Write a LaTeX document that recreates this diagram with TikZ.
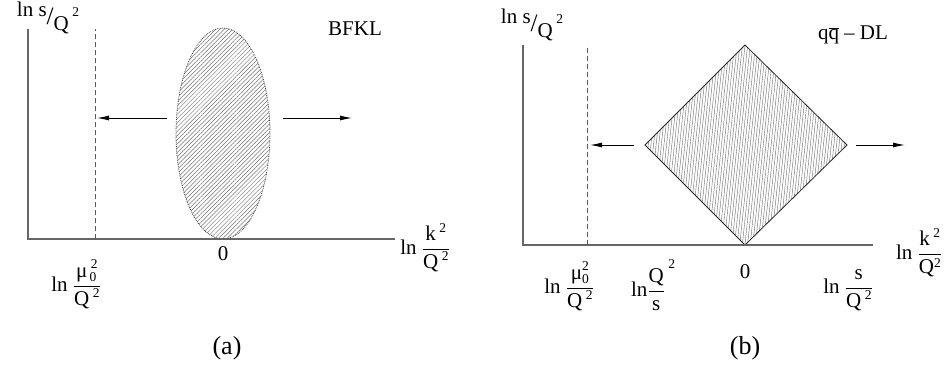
\documentclass[tikz,border=0pt]{standalone}
\usepackage{fontspec}
\setmainfont{Liberation Serif}
\usetikzlibrary{arrows.meta,patterns.meta}
\newcommand\sm{\fontsize{13.5}{15}\selectfont}
\newcommand\lnsq{ln s\raisebox{-8pt}{\fontsize{25}{25}\selectfont/}\raisebox{-14pt}{Q}\,{\sm 2}}
\newcommand\qsq{Q\,\raisebox{8pt}{\sm 2}}
\newcommand\frk[2]{$\displaystyle\frac{\hbox{\rule[-3pt]{0pt}{3pt}#1}}{\hbox{\rule{0pt}{17pt}#2}}$}
\begin{document}
\begin{tikzpicture}[x=1pt,y=1pt,line width=.6pt,
  every node/.style={font=\fontsize{21}{24}\selectfont,inner sep=0pt},
  caption/.style={font=\fontsize{26}{30}\selectfont},
  axis/.style={line width=1.1pt,black!60},
  guide/.style={black!65,dash pattern=on 5pt off 3pt},
  push/.style={line width=.9pt,-{Latex[length=12pt,width=5pt]}}]
  \useasboundingbox (0,0) rectangle (951,368);
  % (a)
  \coordinate (oa) at (28,129);
  \coordinate (ya) at (28,339);
  \coordinate (xa) at (395,129);
  \coordinate (ma) at (95,129);
  \coordinate (mta) at (95,339);
  \coordinate (ea) at (223,234.5);
  \fill[pattern={Lines[angle=45,distance=3pt,line width=.5pt]},pattern color=black!55]
    (ea) ellipse [x radius=47, y radius=105.5];
  \draw[black!75,line width=.8pt,densely dotted] (ea) ellipse [x radius=47, y radius=105.5];
  \draw[axis] (ya)--(oa)--(xa);
  \draw[guide] (ma)--(mta);
  \coordinate (la1) at (167,250); \coordinate (la2) at (97,250);
  \coordinate (ra1) at (283,250); \coordinate (ra2) at (352,250);
  \draw[push] (la1)--(la2);
  \draw[push] (ra1)--(ra2);
  \node (ttla) at (355,339) {BFKL};
  \node (yla) at (48,350) {\lnsq};
  \node (xla) at (425,120) {ln \frk{k\,\raisebox{8pt}{\sm 2}}{\qsq}};
  \node (mla) at (76,84) {ln \frk{μ\rlap{\raisebox{-4pt}{\sm\,0}}\,\raisebox{9pt}{\sm 2}}{\qsq}};
  \node (zla) at (223,114) {0};
  \node[caption] (capa) at (227,20) {(a)};
  % (b)
  \coordinate (ob) at (523,123);
  \coordinate (yb) at (523,323);
  \coordinate (xb) at (873,123);
  \coordinate (mb) at (587,123);
  \coordinate (mtb) at (587,323);
  \coordinate (dt) at (745,323);
  \coordinate (dr) at (847,223);
  \coordinate (db) at (745,123);
  \coordinate (dl) at (645,223);
  \fill[pattern={Lines[angle=84,distance=2.6pt,line width=.45pt]},pattern color=black!55]
    (dt)--(dr)--(db)--(dl)--cycle;
  \draw[black!85,line width=.8pt] (dt)--(dr)--(db)--(dl)--cycle;
  \draw[axis] (yb)--(ob)--(xb);
  \draw[guide] (mb)--(mtb);
  \coordinate (lb1) at (634,223); \coordinate (lb2) at (590,223);
  \coordinate (rb1) at (856,223); \coordinate (rb2) at (905,223);
  \draw[push] (lb1)--(lb2);
  \draw[push] (rb1)--(rb2);
  \node (ttlb) at (853,333) {q$\overline{\hbox{q}}$ – DL};
  \node (ylb) at (532,343) {\lnsq};
  \node (xlb) at (919,115) {ln \frk{k\,\raisebox{8pt}{\sm 2}}{Q\raisebox{6pt}{\sm 2}}};
  \node (mlb) at (569,82) {ln \frk{μ\rlap{\raisebox{-4pt}{\sm 0}}\raisebox{9pt}{\sm 2}}{\qsq}};
  \node (qlb) at (648,83) {ln\frk{Q\rlap{\raisebox{14pt}{\sm\,\,2}}}{s}};
  \node (zlb) at (745,96) {0};
  \node (slb) at (848,78) {ln \frk{s}{\qsq}};
  \node[caption] (capb) at (745,20) {(b)};
\end{tikzpicture}
\end{document}
